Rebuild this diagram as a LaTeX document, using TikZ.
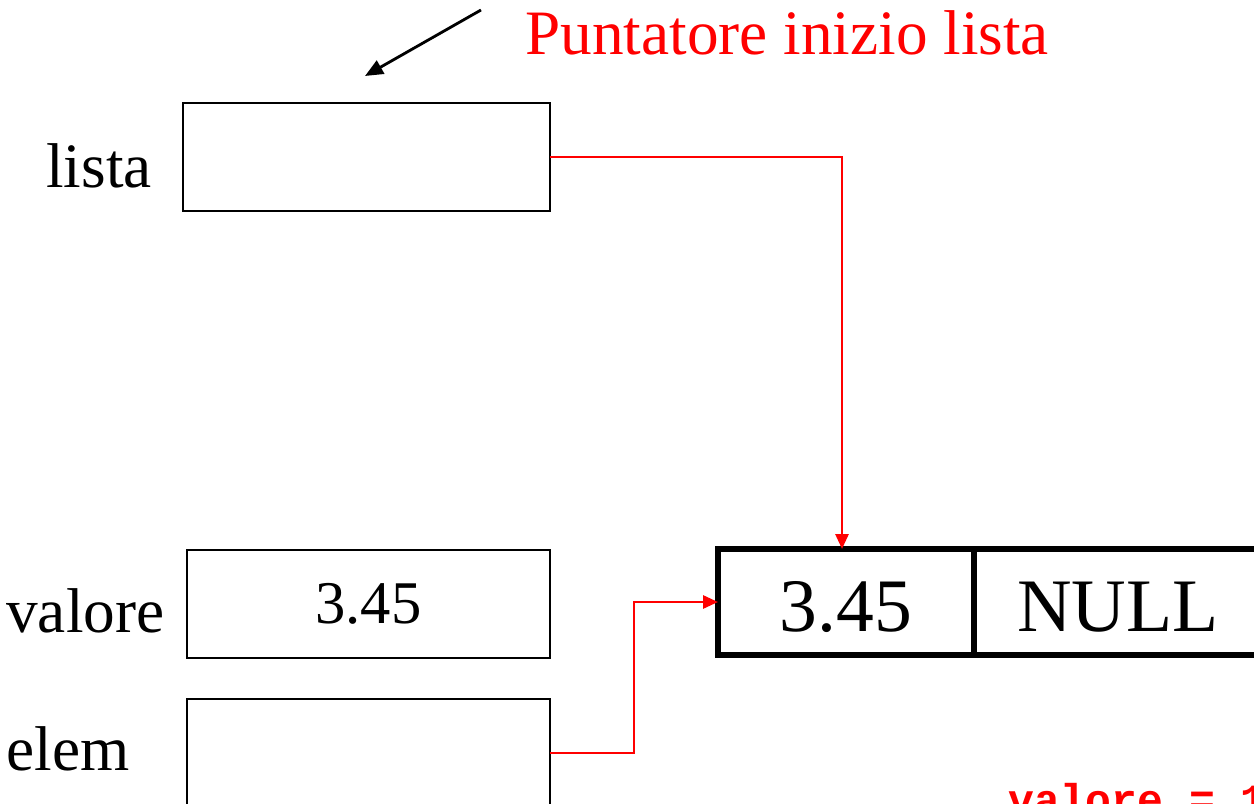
\documentclass[tikz,border=0pt]{standalone}
\usepackage{fontspec}
\setmainfont{Liberation Serif}
\setmonofont{Liberation Mono}
\usetikzlibrary{arrows.meta,positioning}

\begin{document}
\begin{tikzpicture}[x=0.02cm,y=-0.02cm,
    var/.style={draw,rectangle,line width=1.1pt,inner sep=0pt,outer sep=0pt,
      minimum height=2.16cm,font=\fontsize{34.5}{40}\selectfont},
    cella/.style={draw,rectangle,line width=3.2pt,inner sep=0pt,outer sep=0pt,
      minimum height=2.12cm,text height=1.2cm,text depth=0cm,
      font=\fontsize{43}{48}\selectfont},
    etichetta/.style={font=\fontsize{36}{42}\selectfont,inner sep=0pt},
    ptr/.style={red,line width=1.6pt,-{Triangle[length=0.3cm,width=0.26cm]}}]
    \useasboundingbox (0,0) rectangle (1254,804);
    \clip (0,0) rectangle (1254,804);

    % variabili
    \node[var,minimum width=7.34cm] (lista) at (366.5,157) {};
    \node[var,minimum width=7.26cm] (valore) at (368.5,604) {3.45};
    \node[var,minimum width=7.26cm] (elem) at (368.5,753) {};
    \node[etichetta,anchor=base east] at (152,188) {lista};
    \node[etichetta,anchor=base west] at (6,632) {valore};
    \node[etichetta,anchor=base west] at (6,770) {elem};

    % elemento della lista
    \node[cella,minimum width=5.12cm] (dato) at (846,602) {3.45};
    \node[cella,minimum width=5.76cm] (next) at (1118,602) {NULL};

    % puntatori
    \draw[ptr] (lista.east) -| ([xshift=-0.08cm]dato.north);
    \draw[ptr] (elem.east) -- ++(84,0) |- (dato.west);

    % commento
    \node[etichetta,red,anchor=base west] (nota) at (525,55) {Puntatore inizio lista};
    \coordinate (coda) at (481,10);
    \coordinate (punta) at (365,76);
    \draw[line width=1.6pt,-{Triangle[length=0.36cm,width=0.3cm]}] (coda) -- (punta);

    \node[red,anchor=base west,inner sep=0pt,font=\ttfamily\bfseries\fontsize{24.5}{28}\selectfont]
      (codice) at (1008,814) {valore = 1};
\end{tikzpicture}
\end{document}
